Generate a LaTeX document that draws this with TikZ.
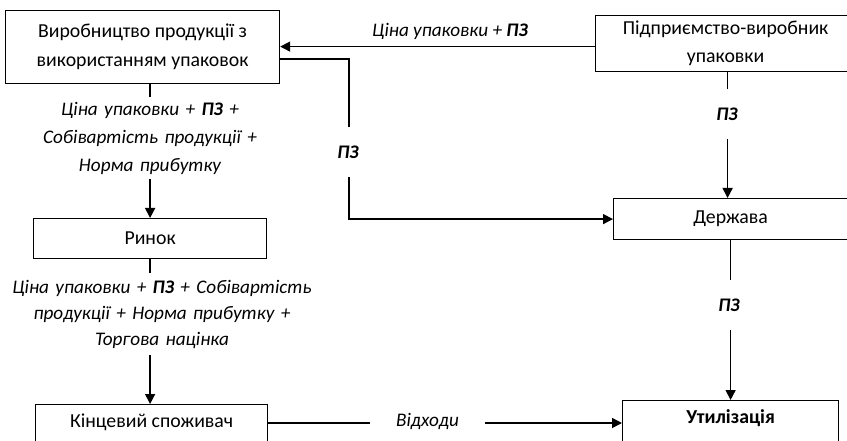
\documentclass[tikz,border=0pt]{standalone}
\usepackage{fontspec}
\setmainfont{Carlito}
\usetikzlibrary{arrows.meta}
\begin{document}
\begin{tikzpicture}[x=1pt,y=-1pt,
  box/.style={draw, line width=1.2pt, inner sep=0pt, anchor=north west, align=center,
    font=\fontsize{19.8}{28}\selectfont},
  arr/.style={line width=1.5pt, -{Triangle[length=10pt,width=10pt]}},
  lab/.style={font=\fontsize{19.2}{28}\selectfont\itshape, align=center, inner sep=0pt},
  gap/.style={lab, fill=white}
]
\clip (0,0) rectangle (847,441);
\fill[white] (0,0) rectangle (847,441);

% boxes
\node[box, minimum width=274pt, minimum height=73pt] (b1) at (5,10)
  {Виробництво продукції з\\[1pt]використанням упаковок};
\node[box, minimum width=260pt, minimum height=56pt] (pv) at (595,15)
  {Підприємство-виробник\\упаковки};
\node[box, minimum width=233pt, minimum height=40pt] (rn) at (33,218) {Ринок};
\node[box, minimum width=234pt, minimum height=41pt] (dz) at (613,198) {Держава};
\node[box, minimum width=232pt, text height=23pt, text depth=37pt] (kc) at (35,404)
  {Кінцевий споживач};
\node[box, minimum width=216pt, text height=23pt, text depth=37pt] (ut) at (622,400)
  {\bfseries Утилізація};

% connectors
\draw[arr] ([yshift=-3pt]pv.west) -- ([yshift=-3pt]pv.west -| b1.east);
\draw[arr] ([yshift=-12pt]b1.east) -- ++(69,0) |- (dz.west);
\draw[arr] (b1.south -| rn.north) -- (rn.north);
\draw[arr] (rn.south) -- (rn.south |- kc.north);
\draw[arr] ([xshift=2pt]pv.south) -- ([xshift=2pt]pv.south |- dz.north);
\draw[arr] (dz.south) -- (dz.south |- ut.north);
\draw[arr] ([yshift=-19pt]kc.north east) -- ([yshift=-23pt]ut.north west);

% labels
\node[lab] (l1) at (450,31) {Ціна упаковки + \textbf{ПЗ}};
\node[gap, minimum height=50pt, minimum width=30pt] (l2) at (348,152) {\textbf{ПЗ}};
\node[gap, minimum height=82pt, text width=260pt] (l3) at (150,138)
  {Ціна упаковки + \textbf{ПЗ} +\\Собівартість продукції +\\Норма прибутку};
\node[gap, minimum height=82pt, text width=330pt, font=\fontsize{19.2}{26}\selectfont\itshape] (l4) at (162,314)
  {Ціна упаковки + \textbf{ПЗ} + Собівартість\\продукції + Норма прибутку +\\Торгова націнка};
\node[gap, minimum height=50pt, minimum width=30pt] (l5) at (727,114) {\textbf{ПЗ}};
\node[gap, minimum height=50pt, minimum width=30pt] (l6) at (729,305) {\textbf{ПЗ}};
\node[gap, minimum width=115pt, minimum height=16pt] (l7) at (427.5,421) {Відходи};
\end{tikzpicture}
\end{document}
